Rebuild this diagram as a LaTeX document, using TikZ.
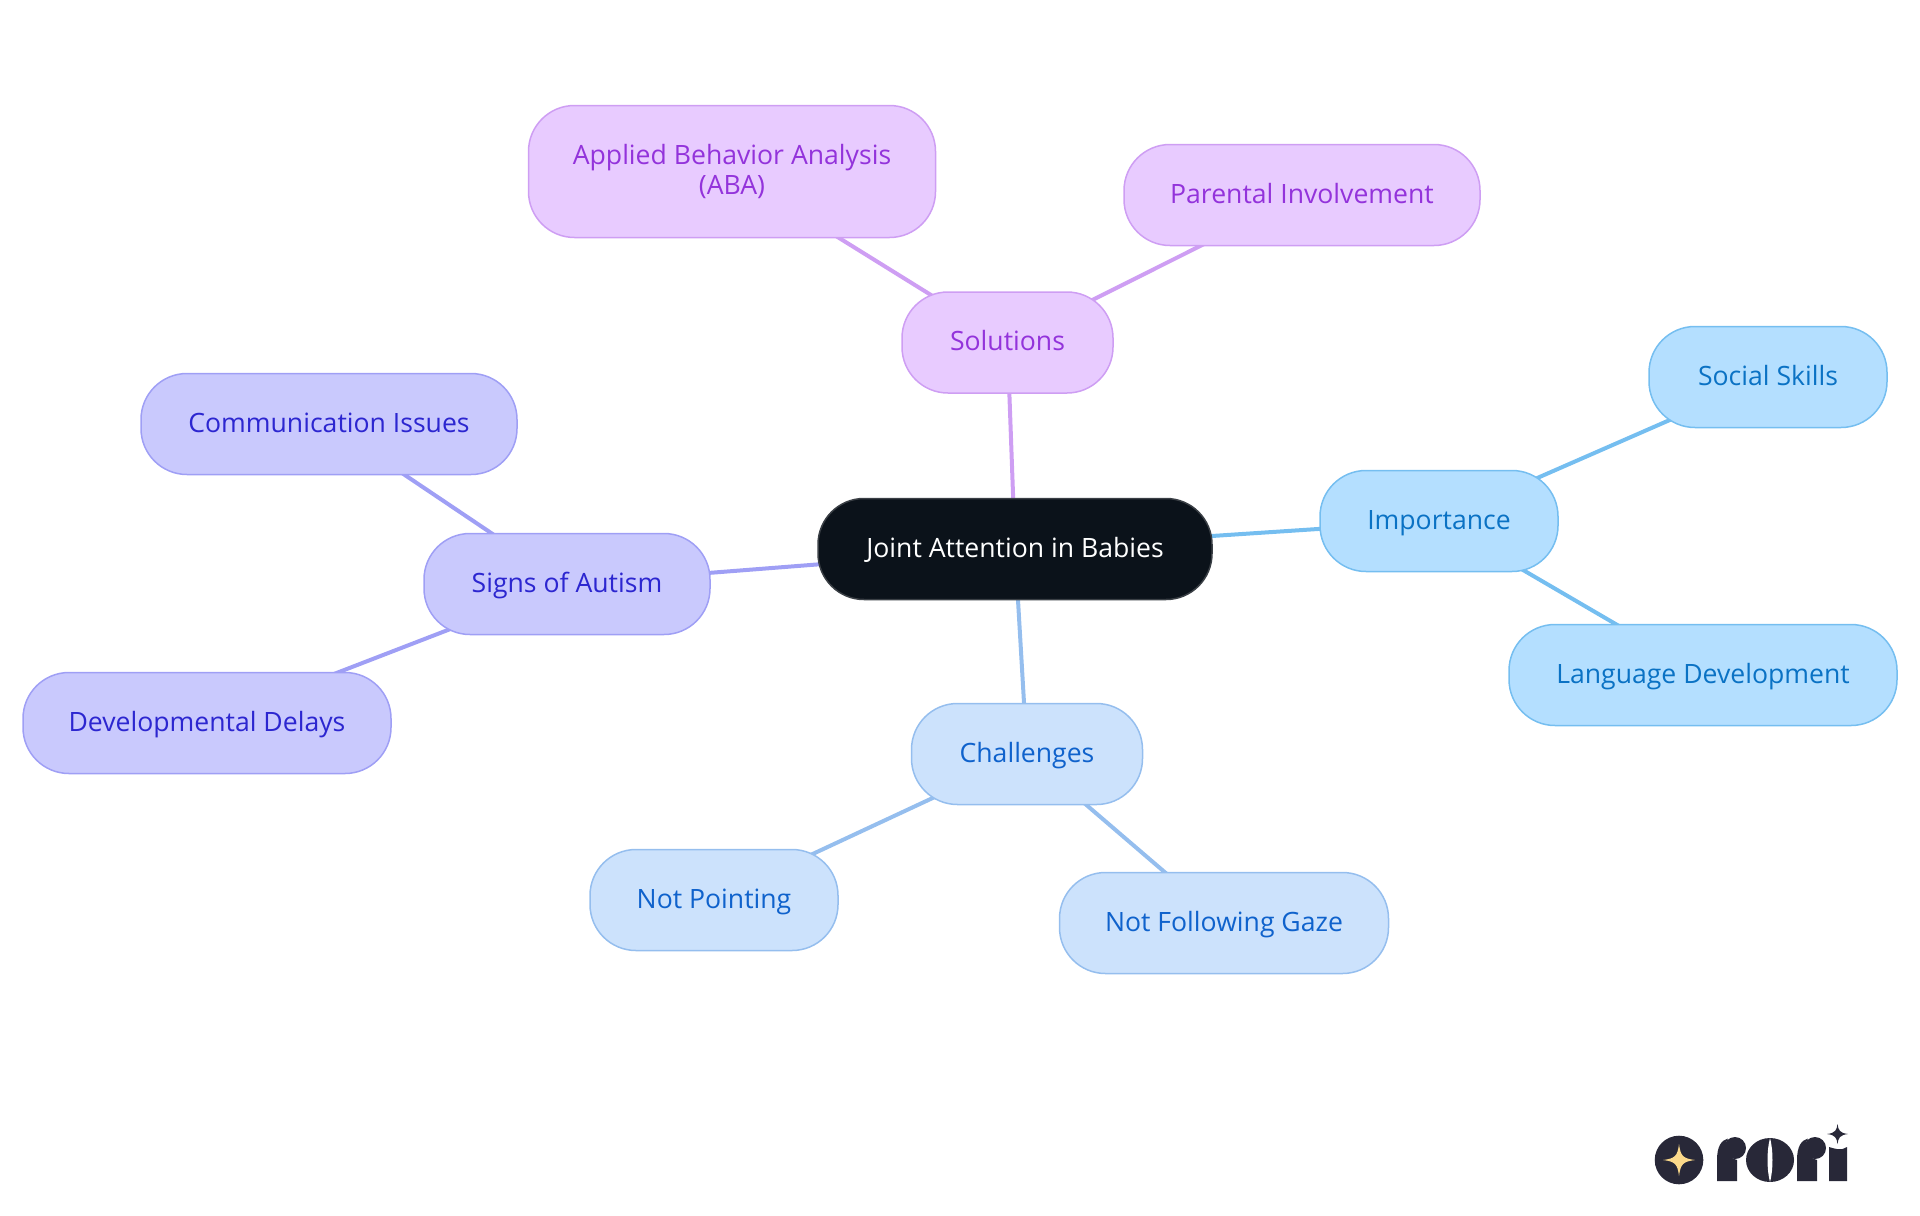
\documentclass[tikz,border=0pt]{standalone}
\usepackage{fontspec}
\setmainfont{Open Sans}
\usetikzlibrary{backgrounds}
\definecolor{rootfill}{HTML}{0B121A}
\definecolor{rootline}{HTML}{3A3F45}
\definecolor{solfill}{HTML}{E8CBFF}
\definecolor{solline}{HTML}{CE9EF3}
\definecolor{soltext}{HTML}{9333DB}
\definecolor{impfill}{HTML}{B4DFFF}
\definecolor{impline}{HTML}{75BEF0}
\definecolor{imptext}{HTML}{0A72C4}
\definecolor{chalfill}{HTML}{CCE2FC}
\definecolor{challine}{HTML}{95BEEE}
\definecolor{chaltext}{HTML}{0F62CC}
\definecolor{autfill}{HTML}{C9C9FD}
\definecolor{autline}{HTML}{9F9FF5}
\definecolor{auttext}{HTML}{2C26D0}
\definecolor{logoink}{HTML}{282838}
\definecolor{logostar}{HTML}{FBD98A}
\tikzset{
	pill/.style={rectangle,rounded corners=23pt,inner sep=0pt,line width=0.75pt,align=center,
		font=\fontsize{13.3}{15}\selectfont,minimum height=50.5pt,text height=11pt,text depth=3pt},
	rootpill/.style={pill,draw=rootline,fill=rootfill,text=white},
	solpill/.style={pill,draw=solline,fill=solfill,text=soltext},
	imppill/.style={pill,draw=impline,fill=impfill,text=imptext},
	chalpill/.style={pill,draw=challine,fill=chalfill,text=chaltext},
	autpill/.style={pill,draw=autline,fill=autfill,text=auttext},
	twig/.style={line width=2pt},
}
\begin{document}
\begin{tikzpicture}[x=0.5pt,y=-0.5pt]
	\useasboundingbox (0,0) rectangle (1920,1215);
	
	\node[rootpill,minimum width=197pt] (root) at (1015,549) {Joint Attention in Babies};
	
	\node[solpill,minimum width=105.5pt] (solutions) at (1007.5,342.5) {Solutions};
	\node[solpill,minimum width=203.5pt,minimum height=66pt,text height=,text depth=] (aba) at (732,171.5) {Applied Behavior Analysis\\(ABA)};
	\node[solpill,minimum width=178pt] (parental) at (1302,195) {Parental Involvement};
	
	\node[imppill,minimum width=119pt] (importance) at (1439,521) {Importance};
	\node[imppill,minimum width=119pt] (social) at (1768,377) {Social Skills};
	\node[imppill,minimum width=194pt] (language) at (1703,675) {Language Development};
	
	\node[chalpill,minimum width=115.5pt] (challenges) at (1027,754) {Challenges};
	\node[chalpill,minimum width=124pt] (pointing) at (714,900) {Not Pointing};
	\node[chalpill,minimum width=164.5pt] (gaze) at (1224,923) {Not Following Gaze};
	
	\node[autpill,minimum width=143pt] (autism) at (567,584) {Signs of Autism};
	\node[autpill,minimum width=188pt] (communication) at (329,424) {Communication Issues};
	\node[autpill,minimum width=184pt] (delays) at (207,723) {Developmental Delays};
	
	% connectors run centre to centre, behind the pills
	\begin{scope}[on background layer]
		\draw[twig,solline] (root.center) -- (solutions.center);
		\draw[twig,solline] (solutions.center) -- (aba.center);
		\draw[twig,solline] (solutions.center) -- (parental.center);
		\draw[twig,impline] (root.center) -- (importance.center);
		\draw[twig,impline] (importance.center) -- (social.center);
		\draw[twig,impline] (importance.center) -- (language.center);
		\draw[twig,challine] (root.center) -- (challenges.center);
		\draw[twig,challine] (challenges.center) -- (pointing.center);
		\draw[twig,challine] (challenges.center) -- (gaze.center);
		\draw[twig,autline] (root.center) -- (autism.center);
		\draw[twig,autline] (autism.center) -- (communication.center);
		\draw[twig,autline] (autism.center) -- (delays.center);
	\end{scope}
	
	% logo
	\fill[logoink] (1679,1160) circle [radius=24.3];
	\fill[logostar] (1679,1144) .. controls (1680.5,1156) and (1683,1158.5) .. (1695,1160)
		.. controls (1683,1161.5) and (1680.5,1164) .. (1679,1176)
		.. controls (1677.5,1164) and (1675,1161.5) .. (1663,1160)
		.. controls (1675,1158.5) and (1677.5,1156) .. (1679,1144) -- cycle;
	\foreach \xr in {1717,1797}{
		\fill[logoink] (\xr,1181) -- (\xr,1160) .. controls (\xr,1147) and (\xr+4,1140) .. (\xr+11,1138.5)
			.. controls (\xr+6,1146) and (\xr+8,1157) .. (\xr+20,1160) -- (\xr+20,1181) -- cycle;
		\fill[logoink] (\xr+18,1148) circle [radius=11];
	}
	\fill[logoink] (1770,1160) ellipse [x radius=24,y radius=22];
	\fill[white] (1770,1138) .. controls (1773.3,1150) and (1773.3,1170) .. (1770,1182)
		.. controls (1766.7,1170) and (1766.7,1150) .. (1770,1138) -- cycle;
	\fill[logoink] (1829,1181) -- (1829,1147) .. controls (1836,1149) and (1841,1151) .. (1847,1147) -- (1847,1181) -- cycle;
	\fill[logoink] (1837.5,1124) .. controls (1838.3,1130) and (1839.5,1133) .. (1848,1134)
		.. controls (1839.5,1135) and (1838.3,1138) .. (1837.5,1144)
		.. controls (1836.7,1138) and (1835.5,1135) .. (1827,1134)
		.. controls (1835.5,1133) and (1836.7,1130) .. (1837.5,1124) -- cycle;
\end{tikzpicture}
\end{document}
